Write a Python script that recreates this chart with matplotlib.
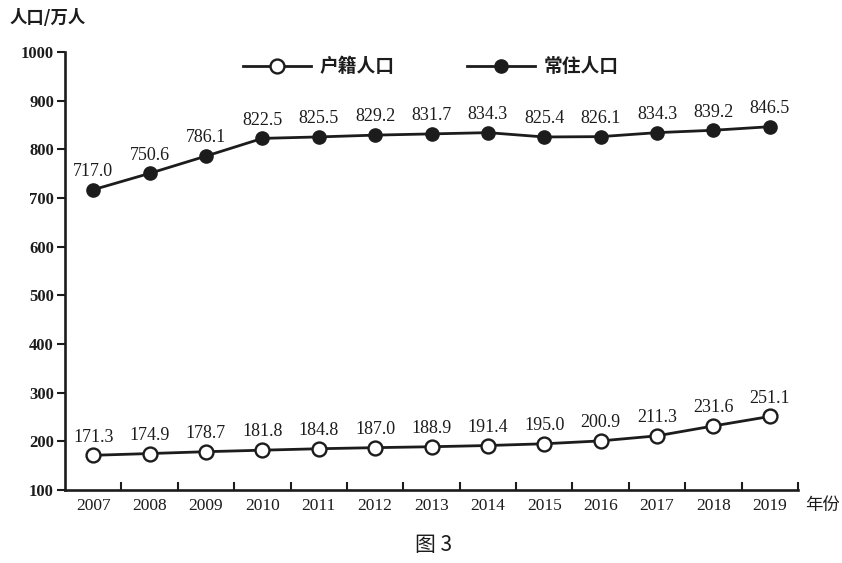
import matplotlib; matplotlib.use("Agg"); import matplotlib.pyplot as plt
from matplotlib.ticker import FixedLocator

years = ["2007","2008","2009","2010","2011","2012","2013","2014","2015","2016","2017","2018","2019"]
huji = [171.3,174.9,178.7,181.8,184.8,187.0,188.9,191.4,195.0,200.9,211.3,231.6,251.1]
changzhu = [717.0,750.6,786.1,822.5,825.5,829.2,831.7,834.3,825.4,826.1,834.3,839.2,846.5]
yticks = [100,200,300,400,500,600,700,800,900,1000]

ink = "#1c1c1c"
serif = "Liberation Serif"
cjk = ["Noto Sans CJK SC", "DejaVu Sans"]

fig = plt.figure(figsize=(8.42, 5.63), dpi=100)
ax = fig.add_axes([65/842, 1-490/563, (798-65)/842, (490-52)/563])
x = list(range(len(years)))

ax.plot(x, huji, color=ink, lw=2, marker="o", ms=10, mfc="white", mec=ink, mew=1.7,
        label="户籍人口", zorder=3)
ax.plot(x, changzhu, color=ink, lw=2, marker="o", ms=9.5, mfc=ink, mec=ink,
        label="常住人口", zorder=3)

# value labels above each point
for series in (huji, changzhu):
    for xi, v in zip(x, series):
        ax.annotate(f"{v:.1f}", (xi, v), xytext=(0, 7), textcoords="offset points",
                    ha="center", va="bottom", fontsize=13, family=serif, color=ink)

ax.set_xlim(-0.5, len(years) - 0.5)
ax.set_ylim(100, 1000)
for s in ["top", "right"]:
    ax.spines[s].set_visible(False)
for s in ["left", "bottom"]:
    ax.spines[s].set_linewidth(1.9); ax.spines[s].set_color(ink)

# x: ticks at category boundaries, labels at centres
ax.xaxis.set_major_locator(FixedLocator([i + 0.5 for i in x]))
ax.set_xticklabels([])
ax.set_xticks(x, years, minor=True)
ax.tick_params(axis="x", which="major", direction="in", length=6, width=1.5, color=ink)
ax.tick_params(axis="x", which="minor", length=0, pad=6)
for t in ax.get_xticklabels(minor=True):
    t.set_fontfamily(serif); t.set_fontsize(12.5); t.set_color(ink)

ax.set_yticks(yticks, [str(v) for v in yticks])
ax.tick_params(axis="y", direction="out", length=6, width=1.5, color=ink, pad=2)
for t in ax.get_yticklabels():
    t.set_fontfamily(serif); t.set_fontsize(12); t.set_color(ink); t.set_fontweight("bold")

leg = ax.legend(loc="center", bbox_to_anchor=(0.499, 0.966), ncol=2, frameon=False,
                handlelength=3.6, handletextpad=0.45, columnspacing=3.9,
                prop={"family": cjk, "size": 13.5, "weight": "bold"})
for t in leg.get_texts():
    t.set_color(ink)

fig.text(10/842, 1-18/563, "人口/万人", family=cjk, fontsize=12.5, fontweight="bold",
         color=ink, ha="left", va="center")
fig.text(805/842, 1-505/563, "年份", family=cjk, fontsize=12.5, color=ink, ha="left", va="center")
fig.text(415/842, 1-545/563, "图 3", family=cjk, fontsize=15, color=ink, ha="left", va="center")

fig.savefig("out.png", dpi=100, facecolor="white")
